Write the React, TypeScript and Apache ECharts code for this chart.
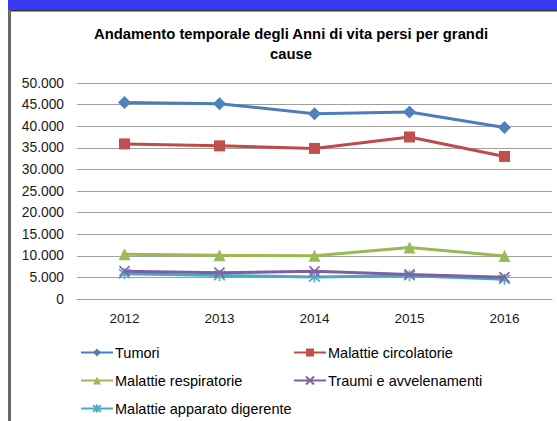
import React, { useEffect, useRef } from "react";
import * as echarts from "echarts";

const years = ["2012", "2013", "2014", "2015", "2016"];
const seriesNames = [
  "Tumori",
  "Malattie circolatorie",
  "Malattie respiratorie",
  "Traumi e avvelenamenti",
  "Malattie apparato digerente",
];
const tumori = [45500, 45200, 42900, 43300, 39700];
const circolatorie = [35900, 35450, 34850, 37500, 33000];
const respiratorie = [10350, 10100, 10000, 11900, 9950];
const traumi = [6450, 6100, 6400, 5700, 5050];
const digerente = [5850, 5450, 5100, 5400, 4550];
const titleLines = ["Andamento temporale degli Anni di vita persi per grandi", "cause"];

const FONT = "'Liberation Sans', Arial, sans-serif";

const X_PATH = "path://M0,0 L10,10 M10,0 L0,10";
const STAR_PATH = "path://M0,0 L10,10 M10,0 L0,10 M5,-1 L5,11";

function fmt(v: number): string {
  return String(Math.round(v)).replace(/\B(?=(\d{3})+(?!\d))/g, ".");
}

export default function App() {
  const ref = useRef<HTMLDivElement>(null);
  useEffect(() => {
    if (!ref.current) return;
    const chart = echarts.init(ref.current, null, { renderer: "svg" });
    const styles = [
      { line: "#4A7EBB", mark: "#4F81BD", symbol: "diamond", size: 13, border: 0 },
      { line: "#BE4B48", mark: "#C0504D", symbol: "rect", size: 11, border: 0 },
      { line: "#98B954", mark: "#9BBB59", symbol: "triangle", size: 12, border: 0 },
      { line: "#7D60A0", mark: "#8064A2", symbol: X_PATH, size: 10, border: 1.6 },
      { line: "#46AAC5", mark: "#4BACC6", symbol: STAR_PATH, size: 11, border: 1.6 },
    ];
    const datas = [tumori, circolatorie, respiratorie, traumi, digerente];
    const legendPos = [
      { left: 80, top: 345 },
      { left: 293, top: 345 },
      { left: 80, top: 373 },
      { left: 293, top: 373 },
      { left: 80, top: 401 },
    ];
    chart.setOption({
      animation: false,
      backgroundColor: "#ffffff",
      graphic: [
        { type: "rect", shape: { x: 8, y: 0, width: 549, height: 10 }, style: { fill: "#3a3af6" } },
        { type: "rect", shape: { x: 8, y: 10, width: 549, height: 1 }, style: { fill: "#333333" } },
        { type: "rect", shape: { x: 8, y: 11, width: 549, height: 1 }, style: { fill: "#9a9a9a" } },
        { type: "rect", shape: { x: 8, y: 10, width: 3, height: 411 }, style: { fill: "#6a6a6a" } },
        {
          type: "text",
          x: 291,
          y: 34,
          style: {
            text: titleLines.join("\n"),
            textAlign: "center",
            textVerticalAlign: "middle",
            verticalAlign: "top",
            font: `bold 14.8px ${FONT}`,
            fill: "#000000",
            lineHeight: 20,
          },
          top: 24,
          left: "auto",
        },
      ],
      grid: { left: 77, right: 5, top: 83, bottom: 122, containLabel: false },
      xAxis: {
        type: "category",
        data: years,
        boundaryGap: true,
        axisLine: { show: true, lineStyle: { color: "#a0a0a0", width: 1 } },
        axisTick: { show: false },
        axisLabel: { color: "#1a1a1a", fontSize: 13.5, fontFamily: FONT, margin: 12 },
      },
      yAxis: {
        type: "value",
        min: 0,
        max: 50000,
        interval: 5000,
        axisLine: { show: false },
        axisTick: { show: false },
        splitLine: { lineStyle: { color: "#a0a0a0", width: 1 } },
        axisLabel: {
          color: "#1a1a1a",
          fontSize: 13.8,
          fontFamily: FONT,
          margin: 13,
          formatter: (v: number) => fmt(v),
        },
      },
      legend: seriesNames.map((n, i) => ({
        data: [n],
        left: legendPos[i].left,
        top: legendPos[i].top,
        padding: 0,
        itemWidth: 32,
        itemHeight: 10,
        itemGap: 2,
        textStyle: { fontSize: 14.5, fontFamily: FONT, color: "#000000", padding: [0, 0, 0, -3] },
      })),
      series: seriesNames.map((n, i) => ({
        name: n,
        type: "line",
        data: datas[i],
        symbol: styles[i].symbol,
        symbolSize: styles[i].size,
        showAllSymbol: true,
        lineStyle: { color: styles[i].line, width: 3 },
        itemStyle: {
          color: styles[i].mark,
          borderColor: styles[i].mark,
          borderWidth: styles[i].border,
        },
        z: 10 - i,
      })),
    });
    return () => chart.dispose();
  }, []);
  return (
    <div
      ref={ref}
      style={{ position: "absolute", left: 0, top: 0, width: 557, height: 421 }}
    />
  );
}
